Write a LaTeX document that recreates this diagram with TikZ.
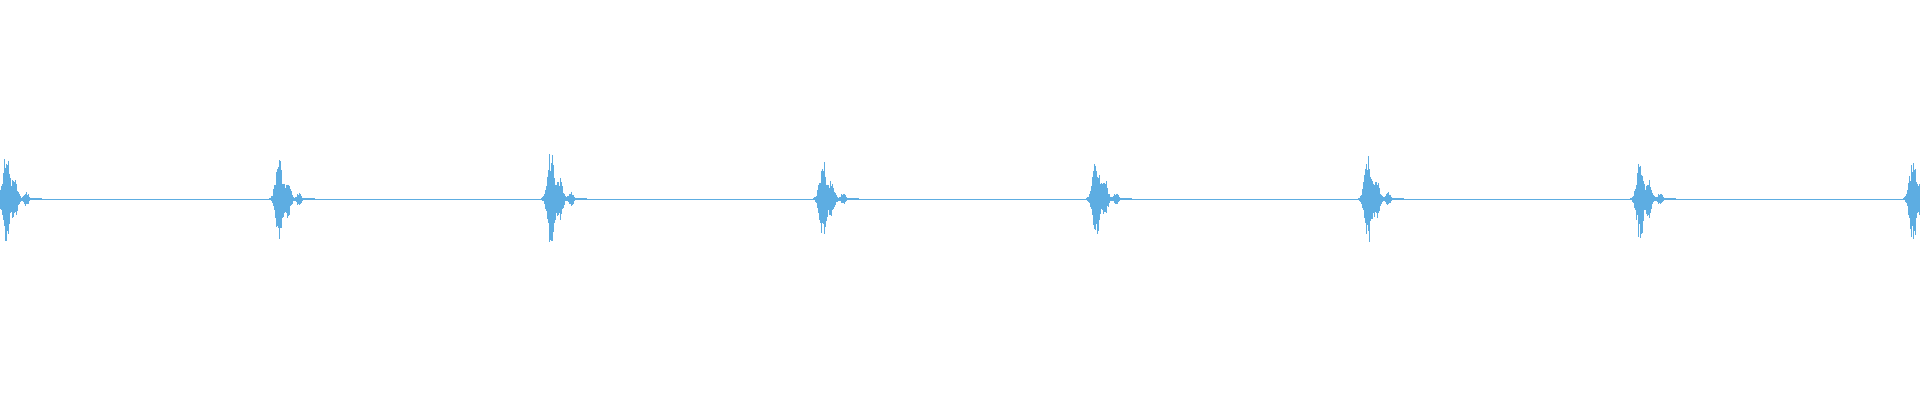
\documentclass[tikz,border=0pt]{standalone}
\begin{document}
\begin{tikzpicture}[x=1pt,y=-1pt]
\definecolor{wave}{HTML}{5DADE2}
\useasboundingbox (0,0) rectangle (1920,400);
\pgfmathsetseed{7}
\draw[wave, line width=0.8pt] (0,199) -- (1920,199);
\foreach \c/\a in {6/46,279/42,551/48,823/40,1096/42,1368/45,1640/40,1913/44}{
  \foreach \i in {-10,-9.2,...,36}{
    \pgfmathsetmacro{\env}{\a*exp(-((\i)/4.5)^2)+0.45*\a*exp(-((\i-9)/3.5)^2)+0.15*\a*exp(-((\i-20)/3)^2)}
    \pgfmathsetmacro{\up}{\env*(0.55+0.45*rnd)+0.6}
    \pgfmathsetmacro{\dn}{\env*(0.55+0.45*rnd)+0.6}
    \draw[wave, line width=0.9pt] (\c+\i,199-\up) -- (\c+\i,199+\dn);
  }
}
\end{tikzpicture}
\end{document}
